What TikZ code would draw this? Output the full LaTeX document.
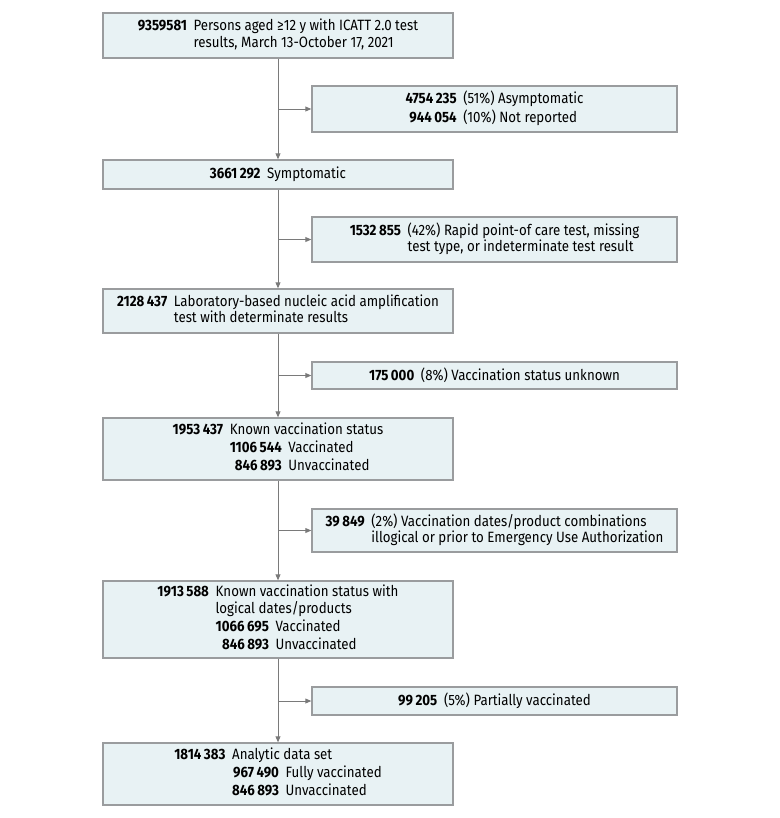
\documentclass[tikz,border=0pt]{standalone}
\usepackage{fontspec}
\setmainfont[FakeStretch=0.89]{Fira Sans}
\usetikzlibrary{arrows.meta}
\definecolor{boxfill}{HTML}{E8F2F4}
\definecolor{boxline}{HTML}{9A9C9E}
\definecolor{arrline}{HTML}{7A7A7A}
\begin{document}
\begin{tikzpicture}[x=0.75pt,y=-0.75pt,
    every node/.style={font=\fontsize{11.2}{12.2}\selectfont},
    mainbox/.style={draw=boxline,line width=0.9pt,fill=boxfill,minimum width=262.5pt,inner sep=0pt},
    exclbox/.style={draw=boxline,line width=0.9pt,fill=boxfill,minimum width=273.75pt,inner sep=0pt},
    arr/.style={draw=arrline,line width=0.75pt,-{Triangle[length=4.5pt,width=3.6pt]}}]
    \useasboundingbox (0,0) rectangle (780,818);
    %% main column
    \node[mainbox,minimum height=33.75pt] (m1) at (278,35.5) {\begin{tabular}{@{}r@{\hspace{5pt}}l@{}}
        \textbf{9359581} & Persons aged ≥12 y with ICATT 2.0 test\\
        & results, March 13-October 17, 2021\end{tabular}};
    \node[mainbox,minimum height=21.75pt] (m2) at (278,174.5) {\textbf{3661\,292}\hspace{5pt}Symptomatic};
    \node[mainbox,minimum height=33pt] (m3) at (278,311) {\begin{tabular}{@{}r@{\hspace{5pt}}l@{}}
        \textbf{2128\,437} & Laboratory-based nucleic acid amplification\\
        & test with determinate results\end{tabular}};
    \node[mainbox,minimum height=46.5pt] (m4) at (278,449) {\begin{tabular}{@{}r@{\hspace{5pt}}l@{}}
        \textbf{1953\,437} & Known vaccination status\\[1.2pt]
        & \begin{tabular}[t]{@{}r@{\hspace{5pt}}l@{}}
            \textbf{1106\,544} & Vaccinated\\[1.2pt]
            \textbf{846\,893} & Unvaccinated\end{tabular}\end{tabular}};
    \node[mainbox,minimum height=57.75pt] (m5) at (278,619.5) {\begin{tabular}{@{}r@{\hspace{5pt}}l@{}}
        \textbf{1913\,588} & Known vaccination status with\\
        & logical dates/products\\[1.2pt]
        & \begin{tabular}[t]{@{}r@{\hspace{5pt}}l@{}}
            \textbf{1066\,695} & Vaccinated\\[1.2pt]
            \textbf{846\,893} & Unvaccinated\end{tabular}\end{tabular}};
    \node[mainbox,minimum height=46.5pt] (m6) at (278,774) {\begin{tabular}{@{}r@{\hspace{5pt}}l@{}}
        \textbf{1814\,383} & Analytic data set\\[1.2pt]
        & \begin{tabular}[t]{@{}r@{\hspace{5pt}}l@{}}
            \textbf{967\,490} & Fully vaccinated\\[1.2pt]
            \textbf{846\,893} & Unvaccinated\end{tabular}\end{tabular}};
    %% exclusions
    \node[exclbox,minimum height=34.5pt] (e1) at (494.5,109) {\begin{tabular}{@{}r@{\hspace{5pt}}l@{}}
        \textbf{4754\,235} & (51\%) Asymptomatic\\[1.2pt]
        \textbf{944\,054} & (10\%) Not reported\end{tabular}};
    \node[exclbox,minimum height=33.75pt] (e2) at (494.5,239.5) {\begin{tabular}{@{}r@{\hspace{5pt}}l@{}}
        \textbf{1532\,855} & (42\%) Rapid point-of care test, missing\\
        & test type, or indeterminate test result\end{tabular}};
    \node[exclbox,minimum height=20.25pt] (e3) at (494.5,375.5) {\textbf{175\,000}\hspace{5pt}(8\%) Vaccination status unknown};
    \node[exclbox,minimum height=32.25pt] (e4) at (494.5,530.5) {\begin{tabular}{@{}r@{\hspace{5pt}}l@{}}
        \textbf{39\,849} & (2\%) Vaccination dates/product combinations\\
        & illogical or prior to Emergency Use Authorization\end{tabular}};
    \node[exclbox,minimum height=21pt] (e5) at (494.5,701) {\textbf{99\,205}\hspace{5pt}(5\%) Partially vaccinated};
    %% flow
    \foreach \a/\b/\e in {m1/m2/e1,m2/m3/e2,m3/m4/e3,m4/m5/e4,m5/m6/e5}{
        \draw[arr] (\a.south) -- (\b.north);
        \coordinate (b\e) at (\a.south |- \e.west);
        \draw[arr] (b\e) -- (\e.west);
    }
\end{tikzpicture}
\end{document}
